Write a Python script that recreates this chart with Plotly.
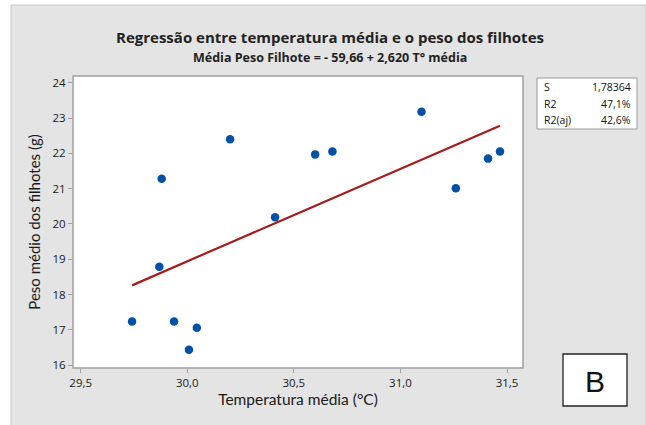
import plotly.graph_objects as go

# Data
temp_media = [29.741, 29.869, 29.880, 29.938, 30.008, 30.045, 30.201,
              30.412, 30.600, 30.681, 31.099, 31.260, 31.411, 31.467]
peso_medio = [17.24, 18.79, 21.28, 17.24, 16.44, 17.06, 22.40,
              20.19, 21.97, 22.05, 23.18, 21.01, 21.85, 22.05]
fit_temp = [29.741, 29.869, 29.880, 29.938, 30.008, 30.045, 30.201,
            30.412, 30.600, 30.681, 31.099, 31.260, 31.411, 31.467]
fit_peso = [18.26, 18.60, 18.63, 18.78, 18.96, 19.06, 19.47,
            20.02, 20.51, 20.72, 21.82, 22.24, 22.64, 22.78]
x_ticks = [29.5, 30.0, 30.5, 31.0, 31.5]
x_tick_labels = ["29,5", "30,0", "30,5", "31,0", "31,5"]
y_ticks = [16, 17, 18, 19, 20, 21, 22, 23, 24]
stats_labels = ["S", "R2", "R2(aj)"]
stats_values = ["1,78364", "47,1%", "42,6%"]

W, H = 646, 425
ML, MR, MT, MB = 73, 123, 76, 57
PW, PH = W - ML - MR, H - MT - MB
FONT = "Open Sans"
TFONT = "Lato"
GREY = "#e4e4e4"

fig = go.Figure()
fig.add_trace(go.Scatter(x=fit_temp, y=fit_peso, mode="lines",
                         line=dict(color="#a51c1c", width=2.2),
                         hoverinfo="skip", showlegend=False))
fig.add_trace(go.Scatter(x=temp_media, y=peso_medio, mode="markers",
                         marker=dict(color="#0050a8", size=8.5),
                         showlegend=False))

def px(x):
    return (x - ML) / PW

def py(y):
    return (H - MB - y) / PH

shapes = [
    # grey panel
    dict(type="rect", xref="paper", yref="paper", x0=px(11), x1=px(646),
         y0=py(426), y1=py(5), fillcolor=GREY,
         line=dict(color="#c8c8c8", width=1), layer="below"),
    # plot area
    dict(type="rect", xref="paper", yref="paper", x0=0, x1=1, y0=0, y1=1,
         fillcolor="white", line=dict(color="#a0a0a0", width=1.5), layer="below"),
    # stats box
    dict(type="rect", xref="paper", yref="paper", x0=px(537), x1=px(637),
         y0=py(129), y1=py(78), fillcolor="white",
         line=dict(color="#9a9a9a", width=1)),
    # B box
    dict(type="rect", xref="paper", yref="paper", x0=px(563), x1=px(627),
         y0=py(406), y1=py(354), fillcolor="white",
         line=dict(color="#222222", width=1.3)),
]

annotations = [
    dict(text="<b>Regressão entre temperatura média e o peso dos filhotes</b>",
         x=px(330), y=py(37), xref="paper", yref="paper", showarrow=False,
         font=dict(family=FONT, size=15, color="#222"), xanchor="center", yanchor="middle"),
    dict(text="<b>Média Peso Filhote = - 59,66 + 2,620 T° média</b>",
         x=px(330), y=py(57), xref="paper", yref="paper", showarrow=False,
         font=dict(family=FONT, size=12.5, color="#222"), xanchor="center", yanchor="middle"),
    dict(text="B", x=px(595), y=py(381), xref="paper", yref="paper", showarrow=False,
         font=dict(family="Liberation Sans", size=30, color="#111"),
         xanchor="center", yanchor="middle"),
]
for i, (lab, val) in enumerate(zip(stats_labels, stats_values)):
    yy = py(87 + i * 16.5)
    annotations.append(dict(text=lab, x=px(542), y=yy, xref="paper", yref="paper",
                            showarrow=False, xanchor="left", yanchor="middle",
                            font=dict(family=FONT, size=10.5, color="#111")))
    annotations.append(dict(text=val, x=px(633), y=yy, xref="paper", yref="paper",
                            showarrow=False, xanchor="right", yanchor="middle",
                            font=dict(family=FONT, size=10.5, color="#111")))

fig.update_layout(
    width=W, height=H,
    margin=dict(l=ML, r=MR, t=MT, b=MB),
    paper_bgcolor="white", plot_bgcolor="rgba(0,0,0,0)",
    shapes=shapes, annotations=annotations,
    font=dict(family=FONT, color="#222"),
    xaxis=dict(range=[29.464, 31.575], tickvals=x_ticks, ticktext=x_tick_labels,
               showgrid=False, zeroline=False, ticks="outside", ticklen=4,
               tickcolor="#a0a0a0", tickfont=dict(size=11.5, family=FONT, color="#1a1a1a"),
               title=dict(text="Temperatura média (°C)", standoff=5,
                          font=dict(size=15.5, family=TFONT, color="#1a1a1a"))),
    yaxis=dict(range=[15.92, 24.19], tickvals=y_ticks,
               showgrid=False, zeroline=False, ticks="outside", ticklen=4,
               tickcolor="#a0a0a0", tickfont=dict(size=11.5, family=FONT, color="#1a1a1a"),
               title=dict(text="Peso médio dos filhotes (g)", standoff=8,
                          font=dict(size=15, family=TFONT, color="#1a1a1a"))),
)

fig.write_html("out.html")
